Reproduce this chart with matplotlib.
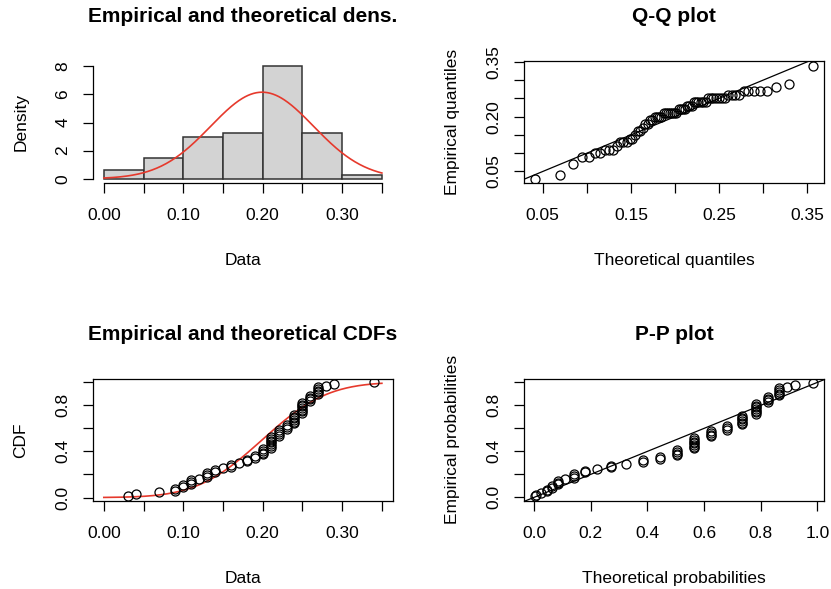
import numpy as np
import matplotlib
matplotlib.use("Agg")
import matplotlib.pyplot as plt
from statistics import NormalDist

# ---------------- data ----------------
data_values = [0.03, 0.04, 0.07, 0.09, 0.10, 0.11, 0.12, 0.13, 0.14, 0.15,
               0.16, 0.17, 0.18, 0.19, 0.20, 0.21, 0.22, 0.23, 0.24, 0.25,
               0.26, 0.27, 0.28, 0.29, 0.34]
data_counts = [1, 1, 1, 2, 2, 3, 1, 3, 2, 1,
               2, 1, 2, 2, 4, 7, 4, 3, 6, 7,
               4, 5, 1, 1, 1]
hist_breaks = [0.00, 0.05, 0.10, 0.15, 0.20, 0.25, 0.30, 0.35]

titles = ["Empirical and theoretical dens.", "Q-Q plot",
          "Empirical and theoretical CDFs", "P-P plot"]

# ---------------- derived quantities ----------------
x = np.sort(np.repeat(data_values, data_counts))
n = len(x)
mu = float(np.mean(x))
sd = float(np.std(x))           # MLE sd
nd = NormalDist(mu, sd)
edges = np.array(hist_breaks)
# right-closed intervals like R's hist
idx = np.searchsorted(edges, x - 1e-12, side="left")
idx = np.clip(idx, 1, len(edges) - 1)
hcounts = np.array([np.sum(idx == k) for k in range(1, len(edges))])
hdens = hcounts / (n * np.diff(edges))
pp_emp = (np.arange(1, n + 1) - 0.5) / n
qq_theo = np.array([nd.inv_cdf(p) for p in pp_emp])
pp_theo = np.array([nd.cdf(v) for v in x])
ecdf_y = np.arange(1, n + 1) / n
grid = np.linspace(hist_breaks[0], hist_breaks[-1], 300)
pdf_grid = np.array([nd.pdf(g) for g in grid])
cdf_grid = np.array([nd.cdf(g) for g in grid])

def rng(a, f=0.04):
    lo, hi = float(np.min(a)), float(np.max(a))
    d = (hi - lo) * f
    return lo - d, hi + d

# ---------------- style ----------------
plt.rcParams["font.family"] = ["Liberation Sans", "DejaVu Sans"]
FS = 12.5
TFS = 15
RED = "#e6392c"
W, H = 831, 589
fig = plt.figure(figsize=(W / 100, H / 100), dpi=100)

def rect(x1, y1, x2, y2):
    return [x1 / W, 1 - y2 / H, (x2 - x1) / W, (y2 - y1) / H]

boxes = [rect(92.7, 61, 393, 183.3), rect(524.3, 61, 824.3, 183.3),
         rect(92.7, 378.7, 393, 501), rect(524.3, 378.7, 824.3, 501)]
axs = [fig.add_axes(b) for b in boxes]

def style(ax, frame=True):
    for s in ax.spines.values():
        s.set_linewidth(0.9)
        s.set_color("black")
        s.set_visible(frame)
    ax.tick_params(axis="both", direction="out", length=7.2, width=0.9,
                   labelsize=FS, colors="black")
    ax.tick_params(axis="x", pad=10.5)
    ax.tick_params(axis="y", pad=9.0, labelrotation=90)

def ticks(ax, axis, vals, labelled, fmt):
    labs = [fmt.format(v) if i in labelled else "" for i, v in enumerate(vals)]
    if axis == "x":
        ax.set_xticks(vals)
        ax.set_xticklabels(labs)
    else:
        ax.set_yticks(vals)
        ax.set_yticklabels(labs, va="center")

def labels(ax_box, title, xlabel, ylabel, ylab_x, row):
    x1 = ax_box[0] * W
    x2 = (ax_box[0] + ax_box[2]) * W
    cx = (x1 + x2) / 2
    ytop = (1 - ax_box[1] - ax_box[3]) * H
    ybot = (1 - ax_box[1]) * H
    tb = 22.3 if row == 0 else 340.5
    xb = 265 if row == 0 else 583
    fig.text(cx / W, 1 - tb / H, title, ha="center", va="baseline",
             fontsize=TFS, fontweight="bold")
    fig.text(cx / W, 1 - xb / H, xlabel, ha="center", va="baseline", fontsize=FS)
    fig.text(ylab_x / W, 1 - ((ytop + ybot) / 2) / H, ylabel, ha="center",
             va="center", rotation=90, fontsize=FS)

# ---- Panel 1: histogram + density ----
ax = axs[0]
ax.bar(edges[:-1], hdens, width=np.diff(edges), align="edge",
       color="#d3d3d3", edgecolor="#333333", linewidth=1.1)
ax.plot(grid, pdf_grid, color=RED, lw=1.2)
ymax = max(hdens.max(), pdf_grid.max())
ax.set_xlim(*rng(edges))
ax.set_ylim(*rng([0, ymax]))
style(ax, frame=False)
ax.spines["left"].set_visible(True)
ax.spines["bottom"].set_visible(True)
ax.spines["left"].set_bounds(0, 8)
ax.spines["bottom"].set_bounds(0, 0.35)
ticks(ax, "x", hist_breaks, {0, 2, 4, 6}, "{:.2f}")
ticks(ax, "y", [0, 2, 4, 6, 8], {0, 1, 2, 3, 4}, "{:g}")
labels(boxes[0], titles[0], "Data", "Density", 21, 0)

# ---- Panel 2: Q-Q ----
ax = axs[1]
ax.plot(qq_theo, x, "o", mfc="none", mec="black", ms=6.5, mew=0.9)
ax.set_xlim(*rng(qq_theo))
ax.set_ylim(*rng(x))
ax.axline((0, 0), slope=1, color="black", lw=0.9)
ax.set_xlim(*rng(qq_theo))
ax.set_ylim(*rng(x))
style(ax)
qt = [0.05, 0.10, 0.15, 0.20, 0.25, 0.30, 0.35]
ticks(ax, "x", qt, {0, 2, 4, 6}, "{:.2f}")
ticks(ax, "y", qt, {0, 3, 6}, "{:.2f}")
labels(boxes[1], titles[1], "Theoretical quantiles", "Empirical quantiles", 452, 0)

# ---- Panel 3: CDF ----
ax = axs[2]
ax.plot(grid, cdf_grid, color=RED, lw=1.2)
ax.plot(x, ecdf_y, "o", mfc="none", mec="black", ms=6.5, mew=0.9)
ax.set_xlim(*rng(edges))
ax.set_ylim(-0.03, 1.03)
style(ax)
ticks(ax, "x", hist_breaks, {0, 2, 4, 6}, "{:.2f}")
ticks(ax, "y", [0, 0.2, 0.4, 0.6, 0.8, 1.0], {0, 2, 4}, "{:.1f}")
labels(boxes[2], titles[2], "Data", "CDF", 21, 1)

# ---- Panel 4: P-P ----
ax = axs[3]
ax.plot(pp_theo, pp_emp, "o", mfc="none", mec="black", ms=6.5, mew=0.9)
ax.axline((0, 0), slope=1, color="black", lw=0.9)
ax.set_xlim(*rng(pp_theo))
ax.set_ylim(*rng(pp_emp))
style(ax)
pt = [0, 0.2, 0.4, 0.6, 0.8, 1.0]
ticks(ax, "x", pt, {0, 1, 2, 3, 4, 5}, "{:.1f}")
ticks(ax, "y", pt, {0, 2, 4}, "{:.1f}")
labels(boxes[3], titles[3], "Theoretical probabilities", "Empirical probabilities", 452, 1)

fig.savefig("out.png", dpi=100, facecolor="white")
